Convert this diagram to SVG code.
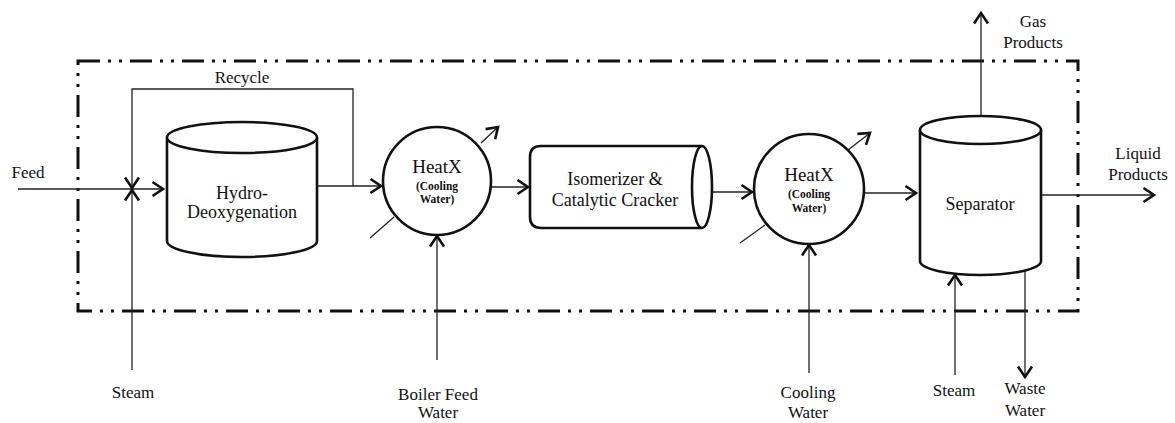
<svg xmlns="http://www.w3.org/2000/svg" width="1175" height="423" viewBox="0 0 1175 423">
<style>
text{font-family:"Liberation Serif","Times New Roman",serif;fill:#111;text-anchor:middle}
.lbl{font-size:17px}
.big{font-size:18px}
.hx{font-size:19px}
.small{font-size:11.5px;font-weight:bold}
.ln{fill:none;stroke:#222;stroke-width:1.3}
.eq{fill:#fff;stroke:#111;stroke-width:2.6}
.bd{fill:none;stroke:#111;stroke-width:3;stroke-dasharray:22 8 3 8 3 8}
</style>
<defs>
<marker id="arr" markerUnits="userSpaceOnUse" viewBox="0 0 14 16" markerWidth="14" markerHeight="16" refX="12" refY="8" orient="auto" overflow="visible">
<path d="M1.5,1 L12,8 L1.5,15" fill="none" stroke="#111" stroke-width="2.6" stroke-linejoin="miter"/>
</marker>
</defs>
<rect class="bd" x="78" y="61" width="1000" height="250"/>
<g id="connectors">
<path class="ln" d="M18,189 H163" marker-end="url(#arr)"/>
<path class="ln" d="M353,186 V89 H132 V188" marker-end="url(#arr)"/>
<path class="ln" d="M132,370 V190" marker-end="url(#arr)"/>
<path class="ln" d="M317,186 H381" marker-end="url(#arr)"/>
<path class="ln" d="M481,143 L498,127" marker-end="url(#arr)"/>
<path class="ln" d="M370,238 L394,217"/>
<path class="ln" d="M437,360 V236" marker-end="url(#arr)"/>
<path class="ln" d="M492,187 H528" marker-end="url(#arr)"/>
<path class="ln" d="M712,192 H752" marker-end="url(#arr)"/>
<path class="ln" d="M848,150 L870,133" marker-end="url(#arr)"/>
<path class="ln" d="M740,243 L765,225"/>
<path class="ln" d="M809,373 V245" marker-end="url(#arr)"/>
<path class="ln" d="M864,193 H916" marker-end="url(#arr)"/>
<path class="ln" d="M981,116 V13" marker-end="url(#arr)"/>
<path class="ln" d="M1041,195 H1154" marker-end="url(#arr)"/>
<path class="ln" d="M955,375 V275" marker-end="url(#arr)"/>
<path class="ln" d="M1025,271 V377" marker-end="url(#arr)"/>
</g>
<g id="hdo">
<path class="eq" d="M167,137.5 V241 A75,16 0 0 0 317,241 V137.5"/>
<ellipse class="eq" cx="242" cy="137.5" rx="75" ry="15.5"/>
<text class="big" x="242" y="199">Hydro-</text>
<text class="big" x="242" y="218">Deoxygenation</text>
</g>
<g id="heatx1">
<circle class="eq" cx="437" cy="181" r="54"/>
<text class="hx" x="437" y="173">HeatX</text>
<text class="small" x="437" y="190">(Cooling</text>
<text class="small" x="437" y="203">Water)</text>
</g>
<g id="isomerizer">
<path class="eq" d="M702,146 H541 Q530,146 530,157 V217 Q530,228 541,228 H702"/>
<ellipse class="eq" cx="702" cy="187" rx="10" ry="41"/>
<text class="big" x="615" y="185">Isomerizer &amp;</text>
<text class="big" x="615" y="206">Catalytic Cracker</text>
</g>
<g id="heatx2">
<circle class="eq" cx="809" cy="189" r="55"/>
<text class="hx" x="809" y="181">HeatX</text>
<text class="small" x="809" y="198">(Cooling</text>
<text class="small" x="809" y="212">Water)</text>
</g>
<g id="separator">
<path class="eq" d="M920,130 V261 A60.5,14 0 0 0 1041,261 V130"/>
<ellipse class="eq" cx="980.5" cy="130" rx="60.5" ry="14"/>
<text class="big" x="980" y="210">Separator</text>
</g>
<g id="labels">
<text class="lbl" x="28" y="178">Feed</text>
<text class="lbl" x="242" y="83">Recycle</text>
<text class="lbl" x="1033" y="27">Gas</text>
<text class="lbl" x="1033" y="48">Products</text>
<text class="lbl" x="1138" y="159">Liquid</text>
<text class="lbl" x="1138" y="180">Products</text>
<text class="lbl" x="133" y="398">Steam</text>
<text class="lbl" x="438" y="400">Boiler Feed</text>
<text class="lbl" x="438" y="418">Water</text>
<text class="lbl" x="808" y="398">Cooling</text>
<text class="lbl" x="808" y="418">Water</text>
<text class="lbl" x="954" y="396">Steam</text>
<text class="lbl" x="1025" y="394">Waste</text>
<text class="lbl" x="1025" y="416">Water</text>
</g>
</svg>
